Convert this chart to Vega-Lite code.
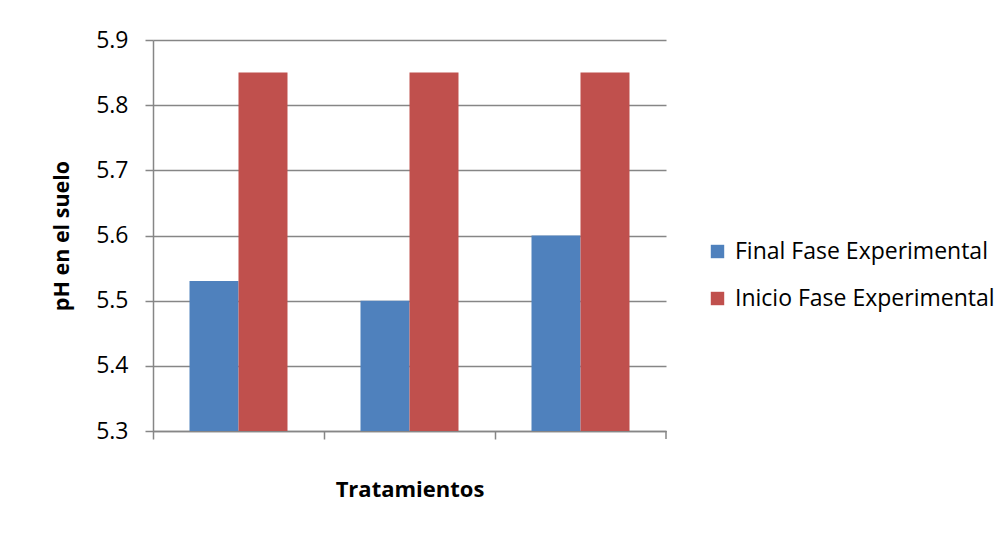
{
  "$schema": "https://vega.github.io/schema/vega-lite/v6.json",
  "autosize": {"type": "none"},
  "width": 513,
  "height": 391,
  "padding": {"left": 153, "top": 40, "right": 342, "bottom": 102},
  "background": "white",
  "config": {
    "font": "Open Sans",
    "view": {"stroke": null},
    "axis": {"labelFont": "Open Sans", "titleFont": "Open Sans"}
  },
  "data": {
    "values": [
      {"tratamiento": "T1", "serie": "Final Fase Experimental", "ph": 5.53},
      {"tratamiento": "T1", "serie": "Inicio Fase Experimental", "ph": 5.85},
      {"tratamiento": "T2", "serie": "Final Fase Experimental", "ph": 5.50},
      {"tratamiento": "T2", "serie": "Inicio Fase Experimental", "ph": 5.85},
      {"tratamiento": "T3", "serie": "Final Fase Experimental", "ph": 5.60},
      {"tratamiento": "T3", "serie": "Inicio Fase Experimental", "ph": 5.85}
    ]
  },
  "layer": [
    {
      "mark": {"type": "bar", "clip": true},
      "encoding": {
        "x": {
          "field": "tratamiento",
          "type": "nominal",
          "scale": {"paddingInner": 0, "paddingOuter": 0},
          "axis": {
            "title": "Tratamientos",
            "titleFontSize": 22,
            "titleFontWeight": "bold",
            "titleColor": "black",
            "titlePadding": 40,
            "labels": false,
            "bandPosition": 0,
            "ticks": true,
            "tickSize": 8,
            "tickColor": "#868686",
            "domainColor": "#868686",
            "domainWidth": 1.5,
            "tickWidth": 1.5,
            "grid": false
          }
        },
        "xOffset": {
          "field": "serie",
          "type": "nominal",
          "scale": {"paddingInner": 0, "paddingOuter": 0.745}
        },
        "y": {
          "field": "ph",
          "type": "quantitative",
          "scale": {"domain": [5.3, 5.9], "zero": false, "nice": false},
          "axis": {
            "title": "pH en el suelo",
            "titleFontSize": 21.5,
            "titleFontWeight": "bold",
            "titleColor": "black",
            "titlePadding": 22,
            "values": [5.3, 5.4, 5.5, 5.6, 5.7, 5.8, 5.9],
            "format": ".1f",
            "labelFontSize": 23,
            "labelColor": "black",
            "labelPadding": 17,
            "tickSize": 8,
            "tickColor": "#868686",
            "tickWidth": 1.5,
            "domainColor": "#868686",
            "domainWidth": 1.5,
            "grid": true,
            "gridColor": "#868686",
            "gridWidth": 1.5
          }
        },
        "color": {
          "field": "serie",
          "type": "nominal",
          "scale": {
            "domain": ["Final Fase Experimental", "Inicio Fase Experimental"],
            "range": ["#4F81BD", "#C0504D"]
          },
          "legend": {
            "title": null,
            "orient": "none",
            "legendX": 553,
            "legendY": 200,
            "symbolType": "square",
            "symbolSize": 180,
            "symbolStrokeWidth": 0,
            "labelFontSize": 23,
            "labelLimit": 400,
            "labelColor": "black",
            "labelOffset": 6,
            "rowPadding": 23
          }
        }
      }
    },
    {
      "transform": [{"filter": "datum.tratamiento === 'T3' && datum.serie === 'Inicio Fase Experimental'"}],
      "mark": {"type": "rule", "clip": false, "color": "#868686", "strokeWidth": 1.5},
      "encoding": {
        "x": {"field": "tratamiento", "type": "nominal", "bandPosition": 1},
        "y": {"datum": 5.3},
        "y2": {"datum": 5.2877}
      }
    }
  ]
}
